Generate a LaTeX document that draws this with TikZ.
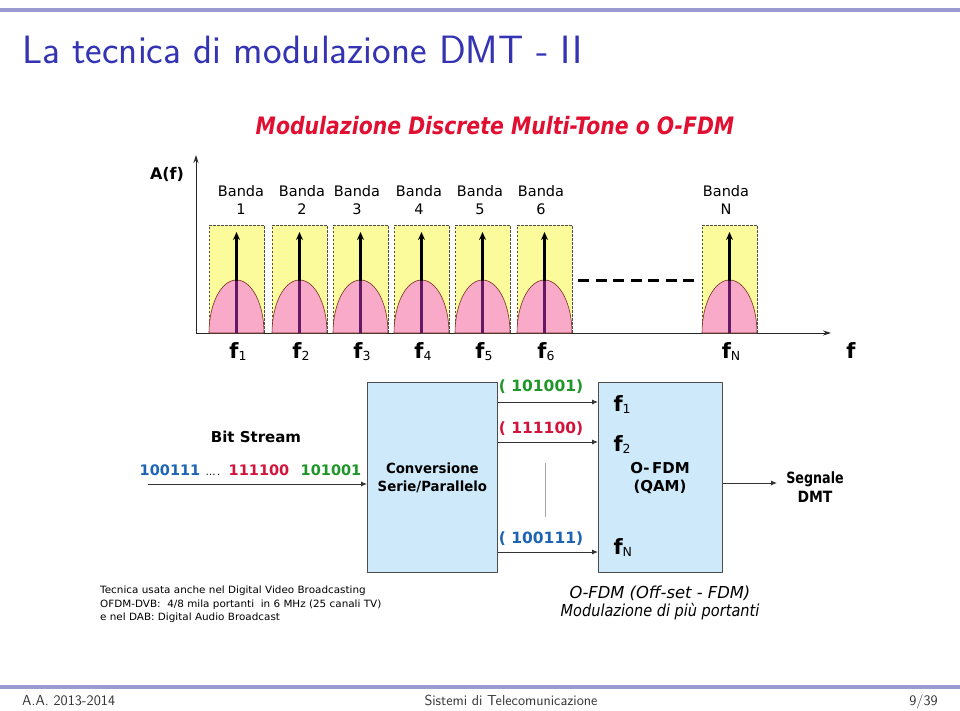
\documentclass[tikz,border=0pt]{standalone}
\usepackage{fontspec}
\usepackage{graphicx}
\newfontfamily\dfont{DejaVu Sans}
\usetikzlibrary{arrows.meta}
\definecolor{beamblue}{RGB}{51,51,179}
\definecolor{barcol}{RGB}{155,155,210}
\definecolor{bandyellow}{RGB}{251,251,155}
\definecolor{humppink}{RGB}{248,170,200}
\definecolor{humpline}{RGB}{120,50,30}
\definecolor{stemviolet}{RGB}{100,25,100}
\definecolor{boxblue}{RGB}{206,234,250}
\definecolor{titlered}{RGB}{225,15,50}
\definecolor{bitgreen}{RGB}{30,150,40}
\definecolor{bitred}{RGB}{210,20,60}
\definecolor{bitblue}{RGB}{30,100,180}
\newcommand\fsz[1]{\fontsize{#1}{#1}\selectfont}
\newcommand\fsub[1]{\raisebox{-2.5pt}{\fontsize{12.5}{12.5}\selectfont\mdseries #1}}
\tikzset{
  bandlab/.style={font=\dfont\fsz{14.5}, align=center},
  flab/.style={font=\dfont\bfseries\fsz{21}, anchor=base},
  blockbox/.style={draw=black!70, fill=boxblue, line width=0.8, minimum width=#1, minimum height=190, anchor=north west, inner sep=0},
  conn/.style={draw=black!80, line width=1, -{Latex[length=6,width=5]}},
  bits/.style={font=\dfont\bfseries\fsz{14.5}, anchor=base},
  boxtxt/.style={font=\dfont\bfseries\fsz{14}, align=center},
  foot/.style={font=\sffamily\fsz{14.5}, text=black!80, anchor=base, inner sep=0}
}
\begin{document}
\begin{tikzpicture}[x=1pt,y=-1pt,line join=round]
\useasboundingbox[fill=white] (0,0) rectangle (960,710);
% header
\fill[barcol] (0,8) rectangle (960,11.5);
\node[anchor=base west, inner sep=0, text=beamblue, font=\sffamily\fsz{39.5}] (title) at (22,63) {La tecnica di modulazione DMT - II};
% red title
\node[anchor=base, inner sep=0, text=titlered, font=\dfont\bfseries\itshape\fsz{24}] (rtitle) at (495,134) {\scalebox{0.85}[1]{Modulazione Discrete Multi-Tone o O-FDM}};
% axes
\node[anchor=base, font=\dfont\bfseries\fsz{16}] (Af) at (167,179) {A(f)};
\draw[black!85, line width=1, -{Stealth[length=8,width=5]}] (196,333.5) -- (196,155);
\draw[black!85, line width=1, -{Stealth[length=8,width=5]}] (196,333) -- (831,333);
\node[flab] (faxis) at (851,358) {f};
% bands
\foreach \l/\c/\lab in {209/241/1, 272/302/2, 333/357/3, 394/419/4, 455/480/5, 517/541/6, 702/726/N}{
  \fill[bandyellow] (\l,225) rectangle ++(55,108);
  \draw[black!70, line width=0.6, dash pattern=on 2.5 off 1.5] (\l,333) -- (\l,225) -- (\l+55,225) -- (\l+55,333);
  \filldraw[fill=humppink, draw=humpline, line width=0.6] (\l,333) .. controls +(0,-29.3) and +(-15.2,0) .. (\l+27.5,280) .. controls +(15.2,0) and +(0,-29.3) .. (\l+55,333) -- cycle;
  \draw[stemviolet, line width=2.4] (\l+27.5,333) -- (\l+27.5,280);
  \draw[black, line width=2.4, -{Stealth[length=8,width=7]}] (\l+27.5,280.5) -- (\l+27.5,232);
  \node[bandlab] (bl\lab) at (\c,200) {Banda\\[3pt]\lab};
  \node[flab] (fl\lab) at (\l+29,358) {f\fsub{\lab}};
}
\draw[black, line width=3, dash pattern=on 11 off 6.5] (578,280) -- (697,280);
% lower block diagram
\node[font=\dfont\bfseries\fsz{15}] (bstitle) at (256,437) {Bit Stream};
\node[bits, text=bitblue] (b1) at (170,475) {100111};
\node[bits] (bdots) at (213,475) {\fsz{10}\mdseries\dots\,.};
\node[bits, text=bitred] (b2) at (259,475) {111100};
\node[bits, text=bitgreen] (b3) at (331,475) {101001};
\node[blockbox=130] (conv) at (367,382) {};
\node[boxtxt] (convtxt) at (conv.center) {\scalebox{0.95}[1]{Conversione}\\[4pt]\scalebox{0.95}[1]{Serie/Parallelo}};
\node[blockbox=124] (ofdm) at (598,382) {};
\coordinate (bsin) at (148,484);
\draw[conn] (bsin) -- (conv.west |- bsin);
\coordinate (a1) at (0,402);
\coordinate (a2) at (0,442);
\coordinate (a3) at (0,552);
\draw[conn] (conv.east |- a1) -- (ofdm.west |- a1);
\draw[conn] (conv.east |- a2) -- (ofdm.west |- a2);
\draw[conn] (conv.east |- a3) -- (ofdm.west |- a3);
\node[bits, text=bitgreen, font=\dfont\bfseries\fsz{15.5}] (l1) at (541,391) {( 101001)};
\node[bits, text=bitred, font=\dfont\bfseries\fsz{15.5}] (l2) at (541,433) {( 111100)};
\node[bits, text=bitblue, font=\dfont\bfseries\fsz{15.5}] (l3) at (541,543) {( 100111)};
\draw[black!35, line width=0.6] (545,463) -- (545,517);
\node[flab, anchor=base west] (of1) at (610,411) {f\fsub{1}};
\node[flab, anchor=base west] (of2) at (610,451) {f\fsub{2}};
\node[flab, anchor=base west] (ofN) at (610,554) {f\fsub{N}};
\node[boxtxt, font=\dfont\bfseries\fsz{15}] (ofdmtxt) at (660,478) {O-\,FDM\\[3pt](QAM)};
\coordinate (sig) at (777,483);
\draw[conn] (ofdm.east |- sig) -- (sig);
\node[boxtxt, font=\dfont\bfseries\fsz{15.5}] (segn) at (815,487) {\scalebox{0.82}[1]{Segnale}\\[3pt]\scalebox{0.9}[1]{DMT}};
% notes
\node[anchor=north west, align=left, inner sep=0, font=\dfont\fsz{10}] (note) at (100,586) {\scalebox{1.04}[1]{Tecnica usata anche nel Digital Video Broadcasting}\\[3.5pt]\scalebox{1.04}[1]{OFDM-DVB:\ \ 4/8 mila portanti\ \ in 6 MHz (25 canali TV)}\\[3.5pt]\scalebox{1.04}[1]{e nel DAB:\ Digital Audio Broadcast}};
\node[align=center, font=\dfont\itshape\fsz{16.5}] (ofdmnote) at (660,603) {\scalebox{0.99}[1]{O-FDM (Off-set - FDM)}\\[2pt]\scalebox{0.88}[1]{Modulazione di più portanti}};
% footer
\fill[barcol] (0,685) rectangle (960,689);
\node[foot, anchor=base west] (fl) at (22,705) {A.A. 2013-2014};
\node[foot] (fc) at (511,705) {Sistemi di Telecomunicazione};
\node[foot, anchor=base east] (fr) at (938,705) {9/39};
\end{tikzpicture}
\end{document}
